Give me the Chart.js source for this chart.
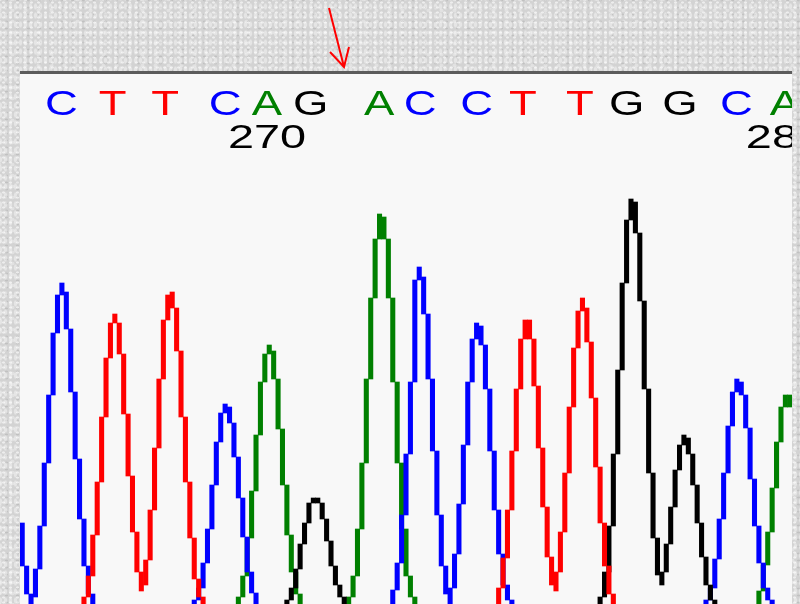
<!DOCTYPE html>
<html>
<head>
<meta charset="utf-8">
<title>Sequence trace 266-280</title>
<script src="https://cdn.jsdelivr.net/npm/chart.js@4.4.1/dist/chart.umd.min.js"></script>
<style>
    html, body {
        margin: 0;
        padding: 0;
        width: 800px;
        height: 604px;
        overflow: hidden;
    }
    body {
        position: relative;
        background-color: #d3d3d3;
        background-image:
            radial-gradient(rgba(255, 255, 255, 0.6) 1px, transparent 2px),
            radial-gradient(rgba(255, 255, 255, 0.4) 1.2px, transparent 2.2px),
            radial-gradient(rgba(160, 160, 160, 0.35) 1px, transparent 2px),
            radial-gradient(rgba(240, 240, 240, 0.5) 1.5px, transparent 2.5px);
        background-size: 7px 5px, 5px 9px, 11px 7px, 13px 11px;
        background-position: 0 0, 3px 2px, 1px 4px, 6px 5px;
    }
    #panel {
        position: absolute;
        left: 20px;
        top: 71px;
        width: 772px;
        height: 533px;
        background: #f8f8f8;
        border-top: 3px solid #5c5c5c;
    }
    #trace {
        position: absolute;
        left: 0;
        top: 0;
    }
    #arrow {
        position: absolute;
        left: 0;
        top: 0;
    }
</style>
</head>
<body>
<div id="panel">
    <canvas id="trace" width="772" height="530"></canvas>
</div>
<svg id="arrow" width="800" height="80">
    <line x1="329" y1="8" x2="344" y2="67" stroke="#ff0000" stroke-width="2"/>
    <polyline points="330,52 344,67 349,47" fill="none" stroke="#ff0000" stroke-width="2"/>
</svg>

<script>
// Trace window: 175 scan columns, bases 266-280
const N_SCANS = 175;
const FIRST_BASE = 266;

// base calls and their scan position (column units)
const BASES = ['C', 'T', 'T', 'C', 'A', 'G', 'A', 'C', 'C', 'T', 'T', 'G', 'G', 'C', 'A'];
const BASE_POS = [8.9, 20.5, 32.4, 46.0, 55.5, 65.4, 80.9, 90.2, 103.0, 113.5, 126.4, 137.0, 149.1, 161.9, 172.9];

// signal per scan column: [start column, [[low, high], ...]]
// (each column shows the min..max of the signal inside it)
const A_RUNS = [
    [49, [[-6, 7], [7, 28], [28, 66], [66, 113], [113, 169], [169, 222], [222, 250], [250, 259], [225, 253],
          [175, 225], [119, 175], [69, 119], [32, 69], [10, 32], [-6, 10]]],
    [74, [[-6, 7], [7, 28], [28, 75], [75, 141], [141, 225], [225, 306], [306, 365], [365, 390], [365, 387],
          [306, 365], [222, 306], [141, 222], [75, 141], [28, 75], [7, 28], [-6, 7]]],
    [167, [[-6, 13], [13, 39], [39, 72], [72, 116], [116, 162], [162, 197], [197, 209], [197, 209]]]
];

const C_RUNS = [
    [0, [[38, 81], [10, 38], [-6, 10], [7, 35], [35, 78], [78, 141], [141, 209], [209, 271], [271, 309],
         [309, 321], [275, 312], [212, 275], [145, 212], [85, 145], [38, 85], [10, 38], [-6, 10]]],
    [39, [[-6, 4], [4, 16], [16, 41], [41, 75], [75, 119], [119, 162], [162, 191], [191, 200], [181, 197],
          [147, 181], [106, 147], [67, 106], [32, 67], [11, 32], [-6, 11]]],
    [84, [[-6, 14], [14, 41], [41, 89], [89, 150], [150, 222], [222, 324], [324, 337], [290, 327], [225, 290],
          [153, 225], [89, 153], [38, 89], [10, 38], [-6, 16], [16, 50], [50, 100], [100, 159], [159, 222],
          [222, 265], [265, 281], [259, 278], [215, 259], [153, 215], [94, 153], [50, 94], [19, 50], [4, 19], [-6, 4]]],
    [155, [[-6, 4], [4, 16], [16, 45], [45, 85], [85, 131], [131, 178], [178, 212], [212, 225], [209, 222],
           [176, 209], [125, 176], [78, 125], [41, 78], [16, 41], [4, 16], [-6, 4]]]
];

const G_RUNS = [
    [60, [[-6, 4], [4, 16], [16, 35], [35, 60], [60, 81], [81, 101], [101, 106], [101, 106], [85, 101],
          [63, 85], [38, 63], [19, 38], [7, 19], [-6, 7]]],
    [131, [[-6, 7], [7, 32], [32, 78], [78, 150], [150, 234], [234, 321], [321, 384], [384, 405], [371, 402],
           [303, 371], [215, 303], [131, 215], [66, 131], [29, 66], [19, 32], [32, 60], [60, 97], [97, 134],
           [134, 159], [159, 169], [150, 166], [119, 150], [81, 119], [47, 81], [19, 47], [4, 19], [-6, 4]]]
];

const T_RUNS = [
    [14, [[-6, 7], [7, 28], [28, 69], [69, 122], [122, 187], [187, 246], [246, 281], [281, 290], [250, 281],
          [190, 250], [128, 190], [72, 128], [32, 72], [13, 32], [19, 44], [44, 94], [94, 156], [156, 225],
          [225, 284], [284, 309], [296, 312], [253, 296], [187, 253], [122, 187], [66, 122], [25, 66], [7, 25], [-6, 7]]],
    [108, [[-6, 16], [16, 46], [46, 94], [94, 153], [153, 215], [215, 265], [265, 284], [265, 284], [218, 265],
           [156, 218], [97, 156], [47, 97], [19, 47], [13, 32], [32, 72], [72, 131], [131, 197], [197, 256],
           [256, 293], [293, 306], [262, 296], [206, 262], [137, 206], [81, 137], [38, 81], [10, 38], [-6, 10]]]
];

const BASE_COLORS = { A: '#008000', C: '#0000ff', G: '#000000', T: '#ff0000' };

// spread the runs over all scan columns (null = trace is off the bottom)
function toColumns(runs) {
    const out = new Array(N_SCANS).fill(null);
    runs.forEach(function(run) {
        run[1].forEach(function(span, i) {
            out[run[0] + i] = span;
        });
    });
    return out;
}

const scanLabels = [];
for (let i = 0; i < N_SCANS; i++) scanLabels.push(i);

// base letters and position numbers above the trace
const baseCallsPlugin = {
    id: 'baseCalls',
    afterDraw: function(chart) {
        const ctx = chart.ctx;
        const xs = chart.scales.x;
        ctx.save();
        ctx.textAlign = 'center';
        ctx.textBaseline = 'alphabetic';
        BASES.forEach(function(b, i) {
            const x = xs.getPixelForValue(BASE_POS[i]);
            ctx.save();
            ctx.translate(x, 41);
            ctx.scale(1.3, 1);
            ctx.font = '35px "Liberation Sans"';
            ctx.fillStyle = BASE_COLORS[b];
            ctx.fillText(b, 0, 0);
            ctx.restore();

            const num = FIRST_BASE + i;
            if (num % 10 === 0) {
                ctx.save();
                ctx.translate(x, 74);
                ctx.scale(1.42, 1);
                ctx.font = '33px "Liberation Sans"';
                ctx.fillStyle = '#000000';
                ctx.fillText(String(num), 0, 0);
                ctx.restore();
            }
        });
        ctx.restore();
    }
};

function traceSet(label, runs, color) {
    return {
        label: label,
        data: toColumns(runs),
        backgroundColor: color,
        borderWidth: 0,
        grouped: false,
        barPercentage: 1,
        categoryPercentage: 1
    };
}

new Chart(document.getElementById('trace').getContext('2d'), {
    type: 'bar',
    data: {
        labels: scanLabels,
        // first dataset is drawn on top
        datasets: [
            traceSet('T', T_RUNS, BASE_COLORS.T),
            traceSet('G', G_RUNS, BASE_COLORS.G),
            traceSet('C', C_RUNS, BASE_COLORS.C),
            traceSet('A', A_RUNS, BASE_COLORS.A)
        ]
    },
    options: {
        responsive: false,
        animation: false,
        layout: { padding: 0 },
        plugins: {
            legend: { display: false },
            tooltip: { enabled: false }
        },
        scales: {
            x: { display: false, offset: true },
            y: { display: false, min: 0, max: 530 }
        }
    },
    plugins: [baseCallsPlugin]
});
</script>
</body>
</html>
